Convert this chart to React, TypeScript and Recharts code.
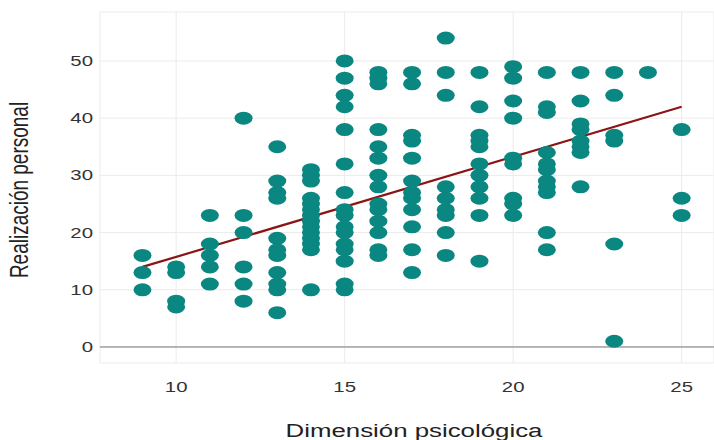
import { ScatterChart, Scatter, XAxis, YAxis, CartesianGrid, ReferenceLine, Label } from "recharts"

// Dimensión psicológica (x) levels and the Realización personal values read at each level
const xLevels = [9, 10, 11, 12, 13, 14, 15, 16, 17, 18, 19, 20, 21, 22, 23, 24, 25]
const yByLevel = [
  [16, 13, 10],
  [14, 13, 8, 7],
  [23, 18, 16, 14, 11],
  [40, 23, 20, 14, 11, 8],
  [35, 29, 27, 26, 19, 17, 16, 13, 11, 10, 6],
  [31, 30, 29, 26, 25, 24, 23, 22, 21, 20, 19, 18, 17, 10],
  [50, 47, 44, 42, 38, 32, 27, 24, 23, 21, 20, 18, 17, 15, 11, 10],
  [48, 47, 46, 38, 35, 33, 30, 28, 25, 24, 22, 20, 17, 16],
  [48, 46, 37, 36, 33, 29, 27, 26, 24, 21, 17, 13],
  [54, 48, 44, 28, 26, 24, 23, 20, 16],
  [48, 42, 37, 36, 35, 32, 30, 28, 26, 23, 15],
  [49, 47, 43, 40, 33, 32, 26, 25, 23],
  [48, 42, 41, 34, 32, 31, 29, 28, 27, 20, 17],
  [48, 43, 39, 38, 36, 35, 34, 28],
  [48, 44, 37, 36, 18, 1],
  [48],
  [38, 26, 23],
]

// fitted line end points
const trend = [
  { x: 9, y: 14 },
  { x: 25, y: 42 },
]

const xTicks = [10, 15, 20, 25]
const yTicks = [0, 10, 20, 30, 40, 50]

const points = xLevels.flatMap((x, i) => yByLevel[i].map((y) => ({ x, y })))

const FONT = "'Liberation Sans', Arial, sans-serif"
const STRETCH = 1.36 // the picture is stretched sideways

const Dot = (props: any) => {
  const { cx, cy } = props
  if (cx == null || cy == null) return null
  return <ellipse cx={cx} cy={cy} rx={9} ry={6.5} fill="#0b8782" />
}

const XTick = (props: any) => {
  const { x, y, payload } = props
  return (
    <g transform={`translate(${x},${y + 21})`}>
      <text transform={`scale(${STRETCH},1)`} textAnchor="middle" fontSize={15} fill="#333" fontFamily={FONT}>
        {payload.value}
      </text>
    </g>
  )
}

const YTick = (props: any) => {
  const { x, y, payload } = props
  return (
    <g transform={`translate(${x + 1},${y + 5})`}>
      <text transform={`scale(${STRETCH},1)`} textAnchor="end" fontSize={15} fill="#333" fontFamily={FONT}>
        {payload.value}
      </text>
    </g>
  )
}

const XTitle = () => (
  <g transform="translate(414,437)">
    <text transform={`scale(${STRETCH},1)`} textAnchor="middle" fontSize={19} fill="#222" fontFamily={FONT}>
      Dimensión psicológica
    </text>
  </g>
)

const YTitle = () => (
  <g transform="translate(28,190) rotate(-90)">
    <text transform={`scale(1,${STRETCH})`} textAnchor="middle" fontSize={19} fill="#222" fontFamily={FONT}>
      Realización personal
    </text>
  </g>
)

export default function App() {
  return (
    <div style={{ position: "absolute", left: 0, top: 0, background: "#fff" }}>
      <ScatterChart width={714} height={440} margin={{ top: 12, right: 0, bottom: 0, left: 0 }}>
        <CartesianGrid stroke="#ebebeb" />
        <XAxis
          type="number"
          dataKey="x"
          domain={[7.74, 25.96]}
          ticks={xTicks}
          allowDataOverflow
          axisLine={false}
          tickLine={false}
          height={77}
          tick={<XTick />}
        >
          <Label content={<XTitle />} />
        </XAxis>
        <YAxis
          type="number"
          dataKey="y"
          domain={[-2.8, 58.56]}
          ticks={yTicks}
          allowDataOverflow
          axisLine={false}
          tickLine={false}
          width={100}
          tick={<YTick />}
        >
          <Label content={<YTitle />} />
        </YAxis>
        <ReferenceLine y={0} stroke="#777" strokeWidth={1} />
        <Scatter data={points} shape={<Dot />} isAnimationActive={false} />
        <ReferenceLine segment={trend} stroke="#8b1414" strokeWidth={2.2} ifOverflow="visible" />
      </ScatterChart>
    </div>
  )
}
